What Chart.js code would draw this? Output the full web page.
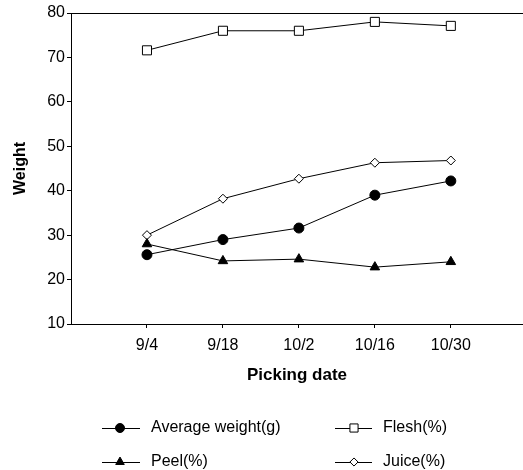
<!DOCTYPE html>
<html>
<head>
<meta charset="utf-8">
<script src="https://cdn.jsdelivr.net/npm/chart.js@4/dist/chart.umd.min.js"></script>
<style>
html,body{margin:0;padding:0;background:#fff;}
#wrap{width:523px;height:470px;}
</style>
</head>
<body>
<div id="wrap"><canvas id="c" width="523" height="470"></canvas></div>
<script>
const categories = ["9/4", "9/18", "10/2", "10/16", "10/30"];
const averageWeight = [25.6, 29.0, 31.6, 39.0, 42.2];
const flesh = [71.6, 76.0, 76.0, 78.0, 77.1];
const peel = [28.0, 24.2, 24.6, 22.8, 24.0];
const juice = [30.0, 38.2, 42.7, 46.3, 46.8];
const yTicks = [10, 20, 30, 40, 50, 60, 70, 80];

const FONT = "'Liberation Sans', Arial, sans-serif";
const toXY = arr => arr.map((v, i) => ({x: i + 1, y: v}));

const datasets = [
  {label: "Average weight(g)", data: toXY(averageWeight), pointStyle: "circle", pointRadius: 5, backgroundColor: "#000", col: 0, row: 0},
  {label: "Flesh(%)", data: toXY(flesh), pointStyle: "rect", pointRadius: 6.4, backgroundColor: "#fff", col: 1, row: 0},
  {label: "Peel(%)", data: toXY(peel), pointStyle: "triangle", pointRadius: 5.5, backgroundColor: "#000", col: 0, row: 1},
  {label: "Juice(%)", data: toXY(juice), pointStyle: "rectRot", pointRadius: 4.5, backgroundColor: "#fff", col: 1, row: 1}
].map(d => Object.assign(d, {
  borderColor: "#000", borderWidth: 1, pointBorderColor: "#000", pointBorderWidth: 1,
  pointBackgroundColor: d.backgroundColor, pointHoverRadius: d.pointRadius, tension: 0
}));

const extras = {
  id: "extras",
  afterDraw(chart) {
    const ctx = chart.ctx, a = chart.chartArea;
    ctx.save();
    ctx.strokeStyle = "#000"; ctx.lineWidth = 1;
    ctx.beginPath(); ctx.moveTo(a.left, a.top + 0.5); ctx.lineTo(a.right, a.top + 0.5); ctx.stroke();
    // legend
    const colX = [[102, 140, 120, 151], [335, 372, 354, 383]];
    const rowY = [428, 462];
    ctx.font = "16px " + FONT; ctx.fillStyle = "#000"; ctx.textBaseline = "middle"; ctx.textAlign = "left";
    chart.data.datasets.forEach(ds => {
      const [x0, x1, xm, tx] = colX[ds.col]; const y = rowY[ds.row];
      ctx.beginPath(); ctx.moveTo(x0, y + 0.5); ctx.lineTo(x1, y + 0.5); ctx.stroke();
      ctx.fillStyle = ds.backgroundColor;
      Chart.helpers.drawPoint(ctx, {pointStyle: ds.pointStyle, radius: ds.pointRadius * 0.9, borderWidth: 1, rotation: 0}, xm, y);
      ctx.fillStyle = "#000";
      ctx.fillText(ds.label, tx, y);
    });
    ctx.restore();
  }
};

new Chart(document.getElementById("c"), {
  type: "line",
  data: {datasets},
  options: {
    responsive: false, animation: false, devicePixelRatio: 1,
    layout: {autoPadding: false, padding: {top: 13, right: 0, bottom: 76, left: 0}},
    plugins: {legend: {display: false}, tooltip: {enabled: false}},
    scales: {
      x: {
        type: "linear", min: 0, max: 5.95,
        afterBuildTicks: s => { s.ticks = categories.map((c, i) => ({value: i + 1})); },
        afterFit: s => { s.height = 70; s.paddingRight = 0; s.paddingLeft = 0; },
        ticks: {callback: v => categories[v - 1] || "", color: "#000", font: {family: FONT, size: 16}, padding: 8, maxRotation: 0, autoSkip: false},
        grid: {drawOnChartArea: false, tickLength: 4, color: "#000"},
        border: {display: true, color: "#000", width: 1},
        title: {display: true, text: "Picking date", color: "#000", font: {family: FONT, size: 17, weight: "bold"}, padding: {top: 0, bottom: 8}}
      },
      y: {
        min: 10, max: 80,
        afterBuildTicks: s => { s.ticks = yTicks.map(v => ({value: v})); },
        afterFit: s => { s.width = 71; },
        ticks: {color: "#000", font: {family: FONT, size: 16}, padding: 2},
        grid: {drawOnChartArea: false, tickLength: 4, color: "#000"},
        border: {display: true, color: "#000", width: 1},
        title: {display: true, text: "Weight", color: "#000", font: {family: FONT, size: 16, weight: "bold"}, padding: {top: 11, bottom: 0}}
      }
    }
  },
  plugins: [extras]
});
</script>
</body>
</html>
